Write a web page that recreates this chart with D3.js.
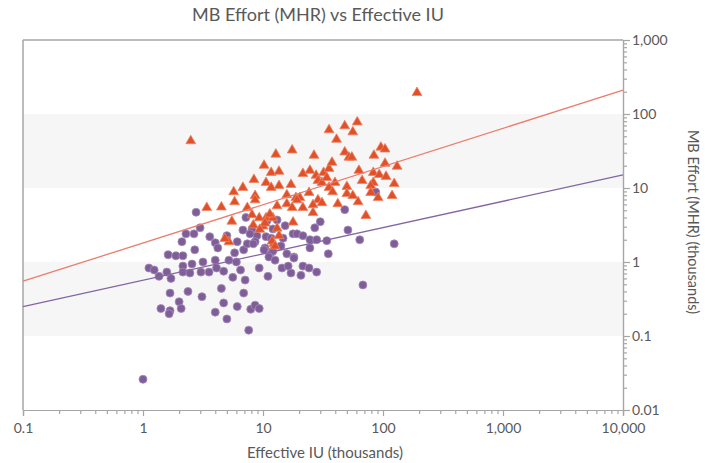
<!DOCTYPE html>
<html>
<head>
<meta charset="utf-8">
<script src="https://cdn.jsdelivr.net/npm/d3@7"></script>
<style>
  body { margin: 0; background: #fff; }
  text { font-family: Lato, "Open Sans", sans-serif; fill: #595959; }
</style>
</head>
<body>
<script>
// triangles (orange series): effective IU (thousands) / effort (MHR thousands)
var triIU = [2.5, 17.5, 12.8, 10.2, 11.7, 13.6, 8.4, 10.6, 11.7, 13.6, 17.1, 6.8, 5.7, 8.6, 15.8, 5.8, 8.6, 18.8,
  3.4, 4.5, 7.4, 13.1, 15.8, 17.5, 8.1, 5.5, 9.3, 10.6, 12.1, 17.8, 8.3, 10, 13.1, 13.6, 5.2, 4.8, 11.4, 12.3, 9.4,
  192, 35.5, 48, 61, 56, 41, 26.6, 48, 52, 55, 84, 96, 104, 21.5, 24.6, 27.7, 32, 35.5, 37.6, 63, 83, 93, 104, 131,
  106, 28.7, 31, 34, 39.8, 67, 83, 124, 35.5, 50, 79, 20.3, 24.2, 38, 50, 56, 79, 91, 119, 19.2, 21.5, 28.7, 31,
  26.1, 42, 62, 26.1, 72, 10.4, 11.9, 12.6];
var triEffort = [44, 33, 29, 20.5, 16.4, 17, 13.2, 12, 10.3, 10.9, 11.3, 10.3, 9.0, 8.0, 8.2, 6.6, 7.0, 7.5,
  5.5, 5.6, 5.5, 5.8, 6.2, 5.5, 4.4, 3.6, 4.0, 4.0, 4.0, 3.5, 3.2, 3.1, 2.9, 2.3, 1.9, 2.1, 4.5, 1.8, 2.8,
  197, 62, 70, 79, 58, 46, 28, 31, 26.4, 26.4, 28, 36, 34, 15.9, 17.5, 15, 16.4, 18.6, 22.5, 17.5, 16.4, 15.4, 21.8, 19.9,
  14.5, 12.8, 12, 14, 12, 12.8, 12, 11.6, 10.3, 10.6, 10.9, 7.5, 8.8, 9.0, 8.5, 8.0, 8.8, 7.5, 8.0, 7.0, 5.5, 7.0, 6.4,
  6.0, 6.2, 6.6, 4.7, 4.3, 3.4, 1.94, 1.66];

// circles (purple series)
var circIU = [2.77, 7.2, 2.99, 2.28, 2.66, 2.11, 3.6, 4.0, 5.0, 6.8, 8.1, 8.9, 7.8, 10.6, 12.1, 15.3, 17.8,
  2.7, 1.62, 1.88, 2.15, 4.2, 5.8, 6.9, 6.1, 7.4, 8.6, 10.4, 11.9, 14.1, 15.8, 18.1,
  1.12, 1.24, 1.58, 1.36, 1.71, 2.15, 2.56, 3.16, 4.0, 5.2, 6.0, 2.15, 2.46, 3.04, 3.55, 4.1, 4.7, 6.5, 9.3, 11,
  14.4, 17.1, 5.6, 7.1, 4.5, 1.68, 2.37, 3.1, 6.9, 2.0, 4.7, 6.1, 1.41, 1.68, 1.65, 2.08, 4.0, 5.0, 7.9, 8.6, 9.3,
  7.6, 1.0, 48, 30, 27, 13.1, 10.8, 51, 19.2, 21.5, 24.6, 28, 34, 64, 124, 11.7, 14.7, 8.3, 10.2, 12.1, 11.2,
  12.6, 24.6, 35, 18.1, 16.2, 21.5, 24.2, 28, 20.7, 68, 87];
var circEffort = [4.7, 4.0, 2.9, 2.4, 2.4, 1.88, 2.2, 1.82, 2.27, 2.7, 2.8, 2.27, 2.4, 2.2, 2.8, 3.1, 2.4,
  1.46, 1.25, 1.21, 1.21, 1.55, 1.33, 1.46, 1.88, 1.76, 1.88, 1.55, 1.37, 1.65, 1.29, 1.17,
  0.83, 0.78, 0.73, 0.64, 0.60, 0.88, 0.94, 1.0, 1.06, 1.06, 1.0, 0.73, 0.71, 0.73, 0.73, 0.83, 0.75, 0.78, 0.83, 0.64,
  0.83, 0.71, 0.62, 0.57, 0.44, 0.38, 0.40, 0.34, 0.38, 0.29, 0.28, 0.25, 0.235, 0.22, 0.20, 0.235, 0.21, 0.17, 0.23, 0.26, 0.235,
  0.12, 0.026, 5.1, 3.5, 2.9, 3.7, 3.6, 2.7, 2.4, 2.27, 2.0, 2.0, 1.94, 2.0, 1.76, 2.1, 2.1, 1.76, 1.46, 1.41, 1.17,
  1.06, 1.55, 1.29, 1.13, 0.88, 0.88, 0.83, 0.73, 0.66, 0.49, 8.8];

// power trend lines, value at each end of the x range
var trendIU = [0.1, 10000];
var triTrend = [0.55, 210];
var circTrend = [0.25, 15];

var xMajor = [0.1, 1, 10, 100, 1000, 10000];
var yMajor = [0.01, 0.1, 1, 10, 100, 1000];

var width = 705, height = 463;
var svg = d3.select("body").append("svg")
  .attr("width", width)
  .attr("height", height);

var x = d3.scaleLog().domain([0.1, 10000]).range([23, 623]);
var y = d3.scaleLog().domain([0.01, 1000]).range([410, 40]);

// shaded decade bands
svg.selectAll("rect.band")
  .data([[10, 100], [0.1, 1]])
  .enter().append("rect")
  .attr("x", x(0.1))
  .attr("y", function(d) { return y(d[1]); })
  .attr("width", x(10000) - x(0.1))
  .attr("height", function(d) { return y(d[0]) - y(d[1]); })
  .attr("fill", "#f6f6f6");

// frame lines top + left
svg.append("line").attr("x1", x(0.1)).attr("x2", x(10000)).attr("y1", y(1000)).attr("y2", y(1000))
  .attr("stroke", "#a6a6a6").attr("stroke-width", 1.5);
svg.append("line").attr("x1", x(0.1)).attr("x2", x(0.1)).attr("y1", y(1000)).attr("y2", y(0.01))
  .attr("stroke", "#a6a6a6").attr("stroke-width", 1.5);

function minors(lo, hi) {
  var out = [];
  for (var p = lo; p < hi; p++) {
    for (var k = 2; k <= 9; k++) out.push(k * Math.pow(10, p));
  }
  return out;
}
var fmt = d3.format(",");

// bottom axis
svg.append("g")
  .attr("transform", "translate(0," + y(0.01) + ")")
  .call(d3.axisBottom(x).tickValues(minors(-1, 4)).tickSize(4).tickFormat(""));
var xa = svg.append("g")
  .attr("transform", "translate(0," + y(0.01) + ")")
  .call(d3.axisBottom(x).tickValues(xMajor).tickSize(6).tickPadding(7).tickFormat(fmt));
xa.selectAll("text").style("font-size", "14px");

// right axis
svg.append("g")
  .attr("transform", "translate(" + x(10000) + ",0)")
  .call(d3.axisRight(y).tickValues(minors(-2, 3)).tickSize(4).tickFormat(""));
var ya = svg.append("g")
  .attr("transform", "translate(" + x(10000) + ",0)")
  .call(d3.axisRight(y).tickValues(yMajor).tickSize(7).tickPadding(2).tickFormat(fmt));
ya.selectAll("text").style("font-size", "14px");

svg.selectAll(".domain, .tick line").attr("stroke", "#a6a6a6").attr("stroke-width", 1.2);

// purple circles
var circles = circIU.map(function(d, i) { return [d, circEffort[i]]; });
svg.append("g").selectAll("circle")
  .data(circles)
  .enter().append("circle")
  .attr("cx", function(d) { return x(d[0]); })
  .attr("cy", function(d) { return y(d[1]); })
  .attr("r", 4)
  .attr("fill", "#7f5e98")
  .attr("stroke", "#a58dbb")
  .attr("stroke-width", 0.8);

// orange triangles
var tris = triIU.map(function(d, i) { return [d, triEffort[i]]; });
svg.append("g").selectAll("path")
  .data(tris)
  .enter().append("path")
  .attr("d", d3.symbol(d3.symbolTriangle).size(42))
  .attr("transform", function(d) { return "translate(" + x(d[0]) + "," + (y(d[1]) + 0.5) + ")"; })
  .attr("fill", "#e0512a")
  .attr("stroke", "#ee8464")
  .attr("stroke-width", 0.8);

// trend lines
var line = d3.line()
  .x(function(d) { return x(d[0]); })
  .y(function(d) { return y(d[1]); });
svg.append("path")
  .attr("d", line(trendIU.map(function(d, i) { return [d, triTrend[i]]; })))
  .attr("stroke", "#ec7c6c").attr("stroke-width", 1.3).attr("fill", "none");
svg.append("path")
  .attr("d", line(trendIU.map(function(d, i) { return [d, circTrend[i]]; })))
  .attr("stroke", "#8465a2").attr("stroke-width", 1.3).attr("fill", "none");

// titles
svg.append("text")
  .attr("x", 318).attr("y", 21)
  .attr("text-anchor", "middle")
  .style("font-size", "18px")
  .text("MB Effort (MHR) vs Effective IU");

svg.append("text")
  .attr("x", 325).attr("y", 458)
  .attr("text-anchor", "middle")
  .style("font-size", "15px")
  .text("Effective IU (thousands)");

svg.append("text")
  .attr("transform", "translate(688,222) rotate(90)")
  .attr("text-anchor", "middle")
  .style("font-size", "14.5px")
  .text("MB Effort (MHR) (thousands)");
</script>
</body>
</html>
